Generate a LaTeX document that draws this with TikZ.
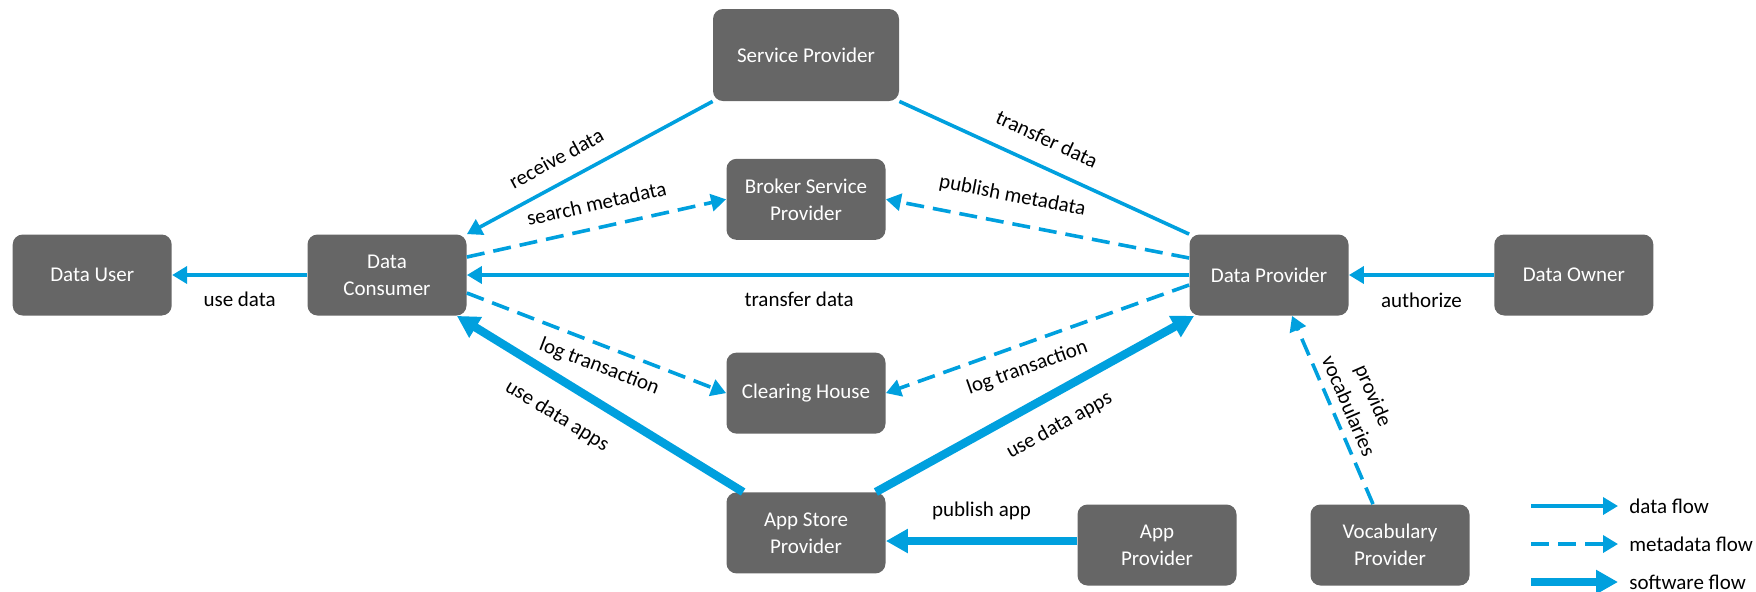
\documentclass[tikz,border=0pt]{standalone}
\usepackage{fontspec}
\setmainfont{Carlito}
\usepackage{tikz}
\usetikzlibrary{arrows.meta, positioning}
\usepackage{xcolor}
\definecolor{boxgray}{RGB}{102,102,102}
\definecolor{flowblue}{RGB}{0,160,222}

\begin{document}
\begin{tikzpicture}[
    x=0.5pt, y=-0.5pt,
    node distance=67.5pt,
    font=\fontsize{10.5}{13.5}\selectfont,
    role/.style={rectangle, rounded corners=5pt, fill=boxgray, text=white, align=center, minimum width=79.5pt, minimum height=40.5pt, inner sep=2pt},
    lbl/.style={inner sep=1.5pt, text=black, align=center},
    flow/.style={draw=flowblue, line width=1.8pt, -{Triangle[length=7.5pt, width=8.5pt]}},
    meta/.style={flow, dash pattern=on 9pt off 4.5pt},
    soft/.style={draw=flowblue, line width=4.2pt, -{Triangle[length=11pt, width=11.5pt]}},
    plain/.style={draw=flowblue, line width=1.8pt}
]
\useasboundingbox (0,0) rectangle (1756,591);

% Nodes
\node[role, minimum width=93pt, minimum height=46pt] (service) at (806,55) {Service Provider};
\node[role, below=28.5pt of service] (broker) {Broker Service\\Provider};
\node[role, below=56pt of broker] (clearing) {Clearing House};
\node[role, below=29pt of clearing] (appstore) {App Store\\Provider};
\node[role] (consumer) at (387,275) {Data\\Consumer};
\node[role, left=of consumer] (user) {Data User};
\node[role] (provider) at (1269,275) {Data Provider};
\node[role, right=72.5pt of provider] (owner) {Data Owner};
\node[role] (appprov) at (1157,545) {App\\Provider};
\node[role] (vocab) at (1390,545) {Vocabulary\\Provider};

% Data flow
\draw[flow] (consumer) -- node[lbl, below=6pt] {use data} (user);
\draw[flow] (provider) -- node[lbl, below=6pt, pos=0.54] {transfer data} (consumer);
\draw[flow] (owner) -- node[lbl, below=6.5pt] {authorize} (provider);
\draw[flow] (service.south west) -- node[lbl, sloped, above=6pt, pos=0.59] {receive data} (consumer.north east);
\draw[plain] (service.south east) -- node[lbl, sloped, above=7.6pt, pos=0.47] {transfer data} (provider.north west);

% Metadata flow
\draw[meta] ([yshift=9pt]consumer.east) -- node[lbl, sloped, above=6pt, pos=0.52] {search metadata} (broker.west);
\draw[meta] ([yshift=8.5pt]provider.west) -- node[lbl, sloped, above=6.75pt, pos=0.6] {publish metadata} (broker.east);
\draw[meta] ([yshift=-9pt]consumer.east) -- node[lbl, sloped, below=3.75pt, pos=0.54] {log transaction} (clearing.west);
\draw[meta] ([yshift=-5pt]provider.west) -- node[lbl, sloped, below=5pt, pos=0.56] {log transaction} (clearing.east);
\draw[meta] ([xshift=-8.5pt]vocab.north) -- node[lbl, sloped, above=2.3pt, pos=0.485] {provide\\vocabularies} ([xshift=11.5pt]provider.south);

% Software flow
\draw[soft] ([xshift=8.5pt]appstore.north west) -- node[lbl, sloped, below=8.3pt, pos=0.59] {use data apps} ([xshift=-5pt]consumer.south east);
\draw[soft] ([xshift=-5pt]appstore.north east) -- node[lbl, sloped, below=7.2pt, pos=0.53] {use data apps} ([xshift=2.5pt]provider.south west);
\draw[soft] ([yshift=2pt]appprov.west) -- node[lbl, above=6.75pt] {publish app} ([yshift=2pt]appprov.west -| appstore.east);

% Legend
\coordinate (lgdata) at (1531,506);
\coordinate (lgmeta) at (1531,544);
\coordinate (lgsoft) at (1531,582);
\node[lbl, anchor=west] (lgdatatxt) at (1626,506) {data flow};
\node[lbl, anchor=west] (lgmetatxt) at (1626,544) {metadata flow};
\node[lbl, anchor=west] (lgsofttxt) at (1626,582) {software flow};
\draw[flow] (lgdata) -- ([xshift=-4pt]lgdatatxt.west);
\draw[meta] (lgmeta) -- ([xshift=-4pt]lgmetatxt.west);
\draw[soft] (lgsoft) -- ([xshift=-4pt]lgsofttxt.west);

\end{tikzpicture}
\end{document}
